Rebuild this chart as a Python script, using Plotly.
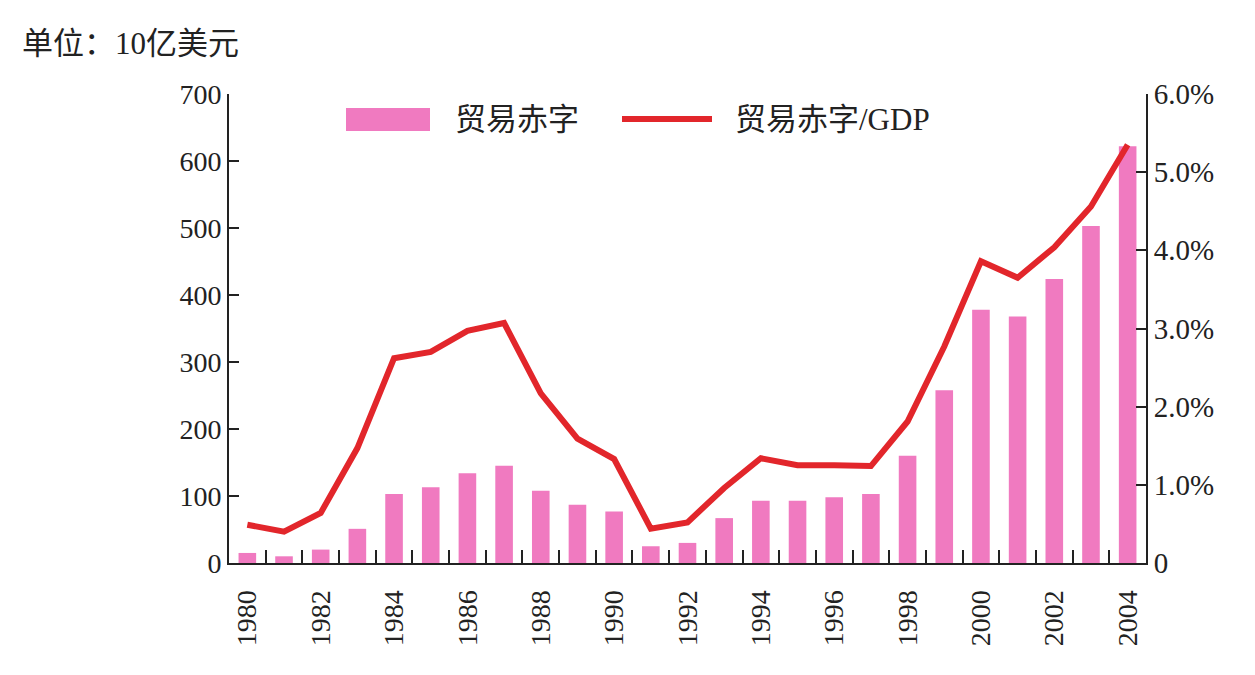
import plotly.graph_objects as go

years = [str(y) for y in range(1980, 2005)]
deficit = [15, 10, 20, 51, 103, 113, 134, 145, 108, 87, 77, 25, 30,
           67, 93, 93, 98, 103, 160, 258, 378, 368, 424, 503, 622]
deficit_gdp = [0.49, 0.40, 0.64, 1.47, 2.62, 2.70, 2.97, 3.07, 2.17, 1.59, 1.33, 0.44, 0.52,
               0.96, 1.34, 1.25, 1.25, 1.24, 1.81, 2.77, 3.86, 3.65, 4.04, 4.56, 5.35]
left_ticks = [0, 100, 200, 300, 400, 500, 600, 700]
right_ticks = [0, 1, 2, 3, 4, 5, 6]
right_labels = ["0", "1.0%", "2.0%", "3.0%", "4.0%", "5.0%", "6.0%"]

BAR = "#F07AC0"
LINE = "#E2262B"
FONT = "Liberation Serif, Noto Sans CJK SC, serif"
NB = "\u00a0"
ZW = "\u200b"

fig = go.Figure()
fig.add_trace(go.Bar(x=years, y=deficit, name="贸易赤字", marker=dict(color=BAR, line=dict(width=0)),
                     width=0.48, yaxis="y", showlegend=False))
fig.add_trace(go.Scatter(x=years, y=deficit_gdp, name="贸易赤字/GDP", mode="lines",
                         line=dict(color=LINE, width=6), yaxis="y2", showlegend=False))

L, R, T, B = 229, 109, 94, 112
W, H = 1255, 675
pw, ph = W - L - R, H - T - B

def px_x(p):
    return (p - L) / pw

def px_y(p):
    return (H - B - p) / ph

shapes = [
    dict(type="rect", xref="paper", yref="paper", x0=px_x(346), x1=px_x(430), y0=px_y(131), y1=px_y(108),
         fillcolor=BAR, line=dict(width=0)),
    dict(type="line", xref="paper", yref="paper", x0=px_x(622), x1=px_x(712), y0=px_y(119), y1=px_y(119),
         line=dict(color=LINE, width=6)),
]
annotations = [
    dict(text="贸易赤字", xref="paper", yref="paper", x=px_x(453), y=px_y(119), xanchor="left", yanchor="middle",
         showarrow=False, font=dict(family=FONT, size=31, color="#222")),
    dict(text="贸易赤字/GDP", xref="paper", yref="paper", x=px_x(733), y=px_y(119), xanchor="left", yanchor="middle",
         showarrow=False, font=dict(family=FONT, size=31, color="#222")),
    dict(text="单位：10亿美元", xref="paper", yref="paper", x=px_x(20), y=px_y(44), xanchor="left", yanchor="middle",
         showarrow=False, font=dict(family=FONT, size=31, color="#222")),
]

fig.update_layout(
    width=W, height=H,
    margin=dict(l=L, r=R, t=T, b=B, autoexpand=False),
    paper_bgcolor="white", plot_bgcolor="white",
    font=dict(family=FONT, size=28, color="#222"),
    shapes=shapes, annotations=annotations,
    xaxis=dict(
        type="category", range=[-0.5, len(years) - 0.5],
        tickson="boundaries", ticklabelstep=2, tickangle=-90,
        ticks="inside", ticklen=13, tickwidth=2, tickcolor="#222",
        showgrid=False, zeroline=False,
        showline=True, linecolor="#222", linewidth=2,
        ticksuffix="  ",
        tickfont=dict(family=FONT, size=28, color="#222"),
    ),
    yaxis=dict(
        range=[0, 700], tickmode="array", tickvals=left_ticks,
        ticks="inside", ticklen=10, tickwidth=2, tickcolor="#222",
        showgrid=False, zeroline=False,
        showline=True, linecolor="#222", linewidth=2,
        ticksuffix=NB + NB + ZW,
        tickfont=dict(family=FONT, size=28, color="#222"),
    ),
    yaxis2=dict(
        range=[0, 6], overlaying="y", side="right", tickmode="array",
        tickvals=right_ticks, ticktext=right_labels,
        ticks="inside", ticklen=10, tickwidth=2, tickcolor="#222",
        showgrid=False, zeroline=False,
        showline=True, linecolor="#222", linewidth=2,
        tickprefix=ZW + NB + NB,
        tickfont=dict(family=FONT, size=29, color="#222"),
    ),
)

fig.write_html("out.html")
